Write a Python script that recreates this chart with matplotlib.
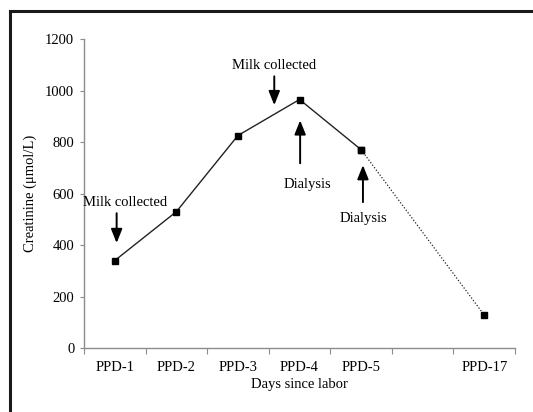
import matplotlib.pyplot as plt
from matplotlib.lines import Line2D

# datos
days = ["PPD-1", "PPD-2", "PPD-3", "PPD-4", "PPD-5", "", "PPD-17"]
creat_days = [0, 1, 2, 3, 4, 6]
creatinine = [340, 530, 826, 966, 771, 128]

plt.rcParams['font.family'] = ['Liberation Serif', 'DejaVu Serif']

fig = plt.figure(figsize=(5.33, 4.12), dpi=100)
ax = fig.add_axes([0.1576, 0.1553, 0.8087, 0.7493])

grey = '#8c8c8c'
ax.plot(creat_days[:5], creatinine[:5], color='#222222', lw=1.0,
        marker='s', ms=4, mfc='black', mec='black')
ax.plot(creat_days[4:], creatinine[4:], color='#222222', lw=0.9, ls=(0, (1, 1.5)),
        marker='s', ms=4, mfc='black', mec='black')

ax.set_xlim(-0.5, 6.5)
ax.set_ylim(0, 1200)
ax.set_yticks(range(0, 1201, 200))
ax.set_xticks([i - 0.5 for i in range(8)])
ax.set_xticklabels([])
ax.set_xticks(range(7), minor=True)
ax.set_xticklabels(days, minor=True)
ax.tick_params(axis='x', which='minor', length=0, pad=9, labelsize=10.5)
ax.tick_params(axis='x', which='major', length=4, color=grey, direction='out')
ax.tick_params(axis='y', length=3, color=grey, labelsize=10.5, pad=4)

for s in ['top', 'right']:
    ax.spines[s].set_visible(False)
for s in ['left', 'bottom']:
    ax.spines[s].set_color(grey)
    ax.spines[s].set_linewidth(1.0)

ax.set_xlabel("Days since labor", fontsize=10.5, labelpad=3)
ax.set_ylabel("Creatinine (\u03bcmol/L)", fontsize=10.5, labelpad=6)

# flechas y textos
arr = dict(arrowstyle='-|>,head_length=0.7,head_width=0.28', color='black',
           lw=1.4, mutation_scale=12, shrinkA=0, shrinkB=0)
ax.annotate('', xy=(0.03, 408), xytext=(0.03, 524), arrowprops=arr)
ax.text(0.17, 567, "Milk collected", ha='center', va='center', fontsize=10.5)
ax.annotate('', xy=(2.59, 944), xytext=(2.59, 1056), arrowprops=arr)
ax.text(2.59, 1099, "Milk collected", ha='center', va='center', fontsize=10.5)
ax.annotate('', xy=(3.01, 885), xytext=(3.01, 718), arrowprops=arr)
ax.text(3.13, 637, "Dialysis", ha='center', va='center', fontsize=10.5)
ax.annotate('', xy=(4.03, 711), xytext=(4.03, 567), arrowprops=arr)
ax.text(4.03, 505, "Dialysis", ha='center', va='center', fontsize=10.5)

# marco exterior (solo arriba e izquierda)
fig.add_artist(Line2D([0.019, 1.0], [0.973, 0.973], color='#1a1a1a', lw=2.2))
fig.add_artist(Line2D([0.019, 0.019], [0.0, 0.973], color='#1a1a1a', lw=2.2))

fig.savefig('out.png', dpi=100)
